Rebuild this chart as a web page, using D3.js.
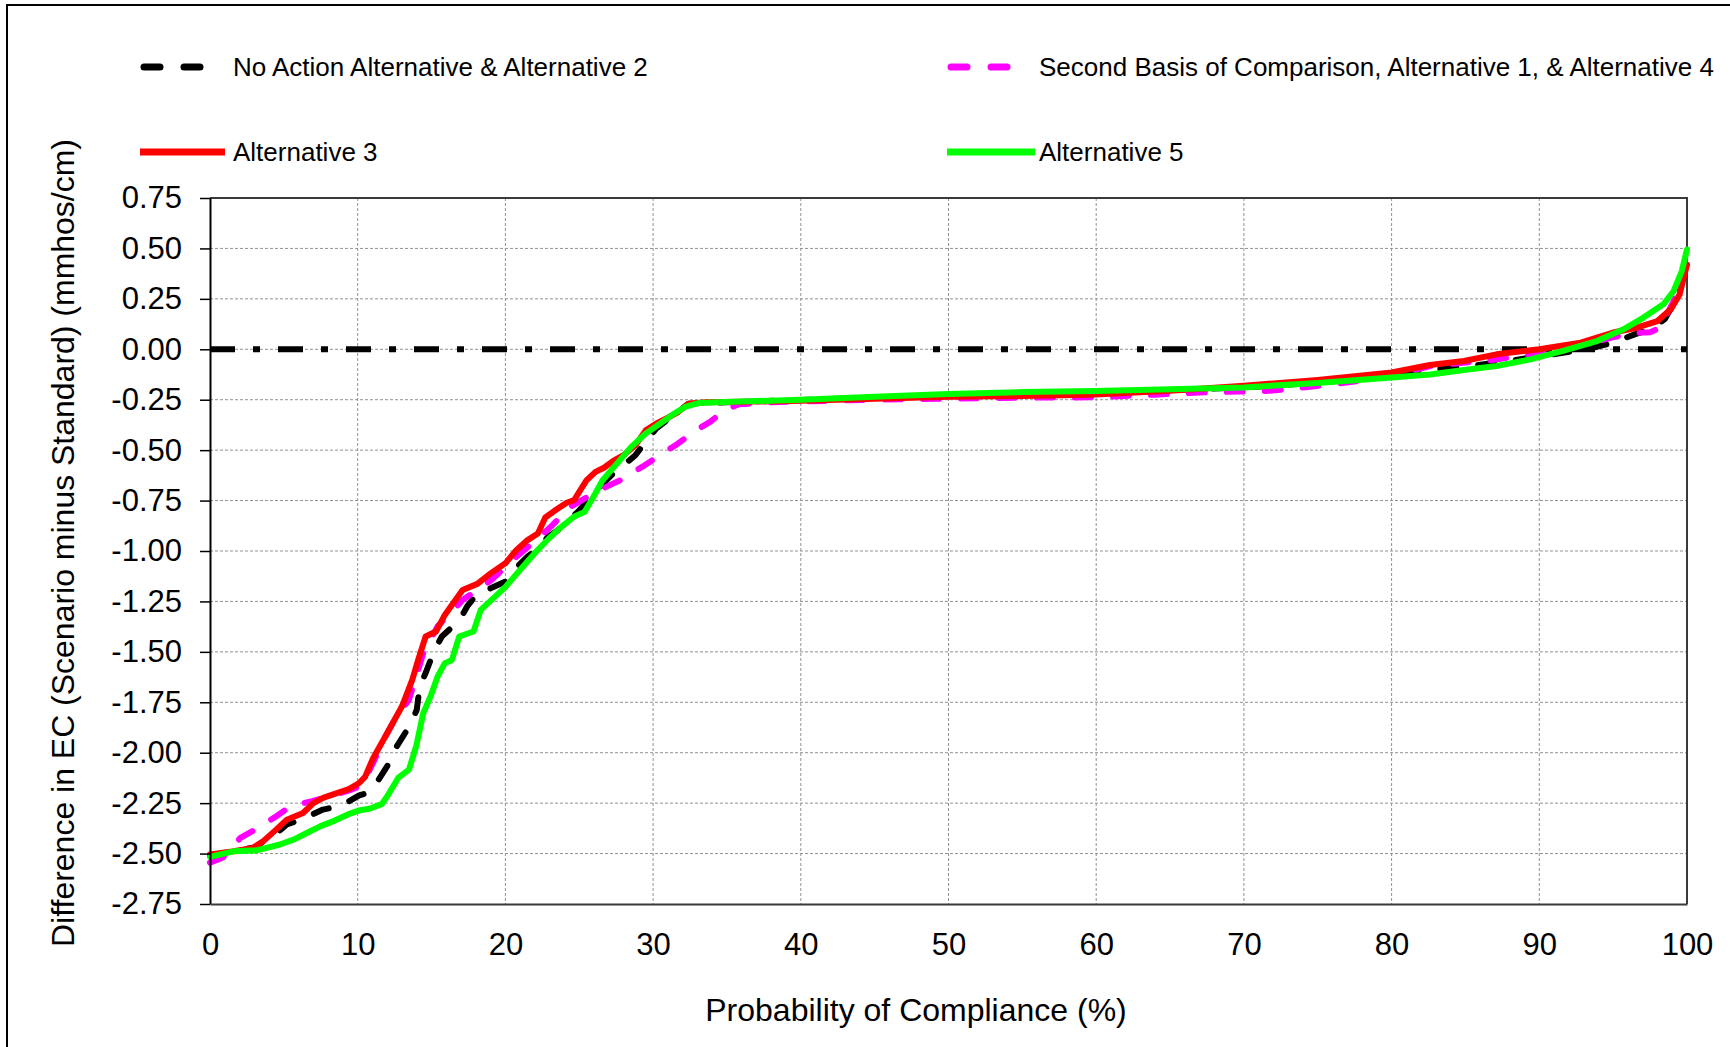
<!DOCTYPE html>
<meta charset="utf-8">
<style>
  body { margin: 0; background: #fff; }
  svg { display: block; }
  text { font-family: "Liberation Sans", Arial, sans-serif; fill: #000; }
</style>
<script src="https://d3js.org/d3.v7.min.js"></script>
<body>
<script>

// probability of compliance (%) and EC difference
var noActionX = [0, 1.5, 3.0, 3.5, 4.5, 5.2, 6.2, 7.65, 8.9, 10.1, 10.7, 11.2, 12.0, 12.5, 13.5, 14.0, 14.2, 14.6, 15.2, 15.7, 16.9, 17.4, 18.1, 19.0, 20.0, 20.8, 21.5, 22.2, 22.9, 23.4, 24.2, 24.9, 25.6, 26.6, 27.3, 28.0, 28.8, 29.5, 30.2, 31.2, 32.4, 35, 40, 45, 50, 55, 60, 65, 70, 75, 80, 83, 85.3, 88, 89.4, 93.2, 95, 96.5, 97.5, 98.5, 99.3, 100]
var noActionY = [-2.51, -2.49, -2.47, -2.446, -2.4, -2.356, -2.331, -2.282, -2.262, -2.212, -2.199, -2.158, -2.067, -1.985, -1.869, -1.787, -1.671, -1.605, -1.49, -1.424, -1.342, -1.276, -1.21, -1.185, -1.152, -1.078, -1.028, -0.987, -0.929, -0.905, -0.855, -0.806, -0.748, -0.666, -0.616, -0.575, -0.525, -0.459, -0.393, -0.336, -0.27, -0.262, -0.252, -0.24, -0.228, -0.22, -0.212, -0.202, -0.19, -0.165, -0.13, -0.1, -0.083, -0.058, -0.041, 0.0, 0.033, 0.075, 0.1, 0.15, 0.25, 0.42]

var secondBasisX = [0, 0.85, 2.06, 3.28, 4.49, 5.46, 6.92, 8.13, 9.59, 10.32, 11.04, 11.77, 12.5, 13.47, 14.44, 15.41, 17.11, 19.05, 20.75, 22.21, 23.18, 24.39, 25.36, 26.82, 27.79, 29.25, 30.46, 31.67, 32.89, 33.86, 34.83, 35.8, 38, 45, 50, 55, 59.6, 64, 67, 71.7, 74.5, 78, 80, 82.8, 86.3, 90, 93, 95, 96.5, 97.5, 98.2, 99.3, 100]
var secondBasisY = [-2.545, -2.521, -2.422, -2.372, -2.315, -2.265, -2.24, -2.216, -2.183, -2.158, -2.051, -1.935, -1.836, -1.737, -1.507, -1.374, -1.243, -1.144, -1.028, -0.938, -0.872, -0.781, -0.74, -0.682, -0.649, -0.583, -0.525, -0.468, -0.402, -0.36, -0.303, -0.273, -0.262, -0.25, -0.245, -0.24, -0.238, -0.225, -0.214, -0.206, -0.186, -0.155, -0.13, -0.08, -0.058, -0.02, 0.02, 0.06, 0.08, 0.085, 0.107, 0.27, 0.42]

var alt3X = [0, 1.5, 2.9, 3.6, 4.5, 5.2, 6.3, 7.0, 7.65, 8.4, 9.4, 10.1, 10.5, 11.0, 12.0, 13.0, 13.7, 14.1, 14.6, 15.3, 15.9, 17.1, 18.1, 19.0, 20.0, 20.75, 21.5, 22.2, 22.7, 23.4, 24.15, 24.65, 25.5, 26.1, 26.7, 27.3, 28.0, 28.8, 29.5, 30.2, 31.0, 31.7, 32.4, 33.6, 36, 40, 45, 50, 55, 59.6, 65, 70, 75, 80, 82.6, 84.9, 87.1, 90, 92.8, 95, 96.6, 98, 98.9, 99.5, 100]
var alt3Y = [-2.505, -2.49, -2.472, -2.439, -2.38, -2.332, -2.299, -2.25, -2.224, -2.205, -2.18, -2.15, -2.12, -2.034, -1.902, -1.77, -1.638, -1.539, -1.424, -1.399, -1.317, -1.193, -1.163, -1.111, -1.061, -0.995, -0.946, -0.913, -0.834, -0.797, -0.761, -0.748, -0.649, -0.608, -0.586, -0.553, -0.525, -0.476, -0.402, -0.369, -0.339, -0.311, -0.27, -0.262, -0.26, -0.255, -0.245, -0.235, -0.232, -0.225, -0.205, -0.181, -0.152, -0.115, -0.078, -0.058, -0.025, 0.0, 0.033, 0.083, 0.107, 0.14, 0.198, 0.272, 0.42]

var alt5X = [0, 1.58, 3.16, 4.73, 5.7, 6.55, 7.45, 8.37, 9.34, 10.16, 10.8, 11.62, 12.0, 12.74, 13.47, 13.96, 14.44, 14.93, 15.41, 15.9, 16.38, 16.87, 17.84, 18.33, 19.3, 20.02, 20.99, 21.97, 22.94, 23.67, 24.64, 25.36, 26.09, 26.58, 27.55, 28.52, 29.49, 30.46, 31.43, 32.16, 33.13, 34.34, 40, 45, 50, 55, 60, 65, 70, 75, 80, 82.6, 84.9, 87.1, 89.4, 91.6, 93.9, 95.7, 97.05, 98.4, 99.1, 99.65, 100]
var alt5Y = [-2.516, -2.489, -2.484, -2.455, -2.43, -2.398, -2.365, -2.339, -2.306, -2.285, -2.278, -2.255, -2.216, -2.125, -2.084, -1.968, -1.803, -1.721, -1.622, -1.556, -1.54, -1.424, -1.399, -1.292, -1.226, -1.177, -1.094, -1.012, -0.938, -0.888, -0.83, -0.806, -0.715, -0.649, -0.567, -0.484, -0.418, -0.369, -0.319, -0.286, -0.266, -0.263, -0.25, -0.235, -0.222, -0.212, -0.207, -0.198, -0.189, -0.167, -0.14, -0.125, -0.103, -0.083, -0.05, -0.008, 0.041, 0.099, 0.157, 0.223, 0.289, 0.388, 0.495]

var xTicks = [0, 10, 20, 30, 40, 50, 60, 70, 80, 90, 100]
var yTicks = [0.75, 0.5, 0.25, 0, -0.25, -0.5, -0.75, -1, -1.25, -1.5, -1.75, -2, -2.25, -2.5, -2.75]

var seriesNames = ["No Action Alternative & Alternative 2",
                   "Second Basis of Comparison, Alternative 1, & Alternative 4",
                   "Alternative 3",
                   "Alternative 5"]

// drawing order follows the legend: later series sit on top
var series = [
  {name: seriesNames[0], xs: noActionX, ys: noActionY, color: "#000000", dash: "16,22"},
  {name: seriesNames[1], xs: secondBasisX, ys: secondBasisY, color: "#ff00ff", dash: "16,22"},
  {name: seriesNames[2], xs: alt3X, ys: alt3Y, color: "#ff0000", dash: null},
  {name: seriesNames[3], xs: alt5X, ys: alt5Y, color: "#00ff00", dash: null}
]

var W = 1730, H = 1047
var plot = {left: 210, right: 1687, top: 198, bottom: 904}

var svg = d3.select("body").append("svg")
    .attr("width", W)
    .attr("height", H)

svg.append("rect").attr("width", W).attr("height", H).attr("fill", "#fff")

// outer chart frame (runs off the right and bottom edges)
svg.append("rect")
    .attr("x", 7).attr("y", 5)
    .attr("width", W + 20).attr("height", H + 20)
    .attr("fill", "none")
    .attr("stroke", "#000")
    .attr("stroke-width", 2)

var x = d3.scaleLinear().domain([0, 100]).range([plot.left, plot.right])
var y = d3.scaleLinear().domain([-2.75, 0.75]).range([plot.bottom, plot.top])

// grid
var grid = svg.append("g")
    .attr("stroke", "#929292")
    .attr("stroke-width", 1)
    .attr("stroke-dasharray", "3,2")

grid.selectAll(".vgrid")
    .data(xTicks.filter(function(d) { return d > 0 && d < 100 }))
    .enter().append("line")
    .attr("x1", function(d) { return x(d) }).attr("x2", function(d) { return x(d) })
    .attr("y1", plot.top).attr("y2", plot.bottom)

grid.selectAll(".hgrid")
    .data(yTicks.filter(function(d) { return d > -2.75 && d < 0.75 }))
    .enter().append("line")
    .attr("x1", plot.left).attr("x2", plot.right)
    .attr("y1", function(d) { return y(d) }).attr("y2", function(d) { return y(d) })

// plot area border (top, right)
svg.append("path")
    .attr("d", "M" + plot.left + "," + plot.top + "H" + plot.right + "V" + plot.bottom)
    .attr("fill", "none")
    .attr("stroke", "#3a3a3a")
    .attr("stroke-width", 2)

// zero reference line, dash-dot
svg.append("line")
    .attr("x1", x(0)).attr("x2", x(100))
    .attr("y1", y(0)).attr("y2", y(0))
    .attr("stroke", "#000")
    .attr("stroke-width", 6)
    .attr("stroke-dasharray", "25,18,7,18")

var line = d3.line()
    .x(function(d) { return x(d[0]) })
    .y(function(d) { return y(d[1]) })

series.forEach(function(s) {
  var path = svg.append("path")
      .datum(d3.zip(s.xs, s.ys))
      .attr("d", line)
      .attr("fill", "none")
      .attr("stroke", s.color)
      .attr("stroke-width", 6)
      .attr("stroke-linejoin", "round")
      .attr("stroke-linecap", "round")
  if (s.dash) path.attr("stroke-dasharray", s.dash)
})

// axes
var yAxis = svg.append("g")
    .attr("transform", "translate(" + plot.left + ",0)")
    .call(d3.axisLeft(y).tickValues(yTicks).tickSize(10).tickSizeOuter(0).tickPadding(18)
      .tickFormat(function(d) { return d.toFixed(2) }))
yAxis.select(".domain").attr("stroke", "#000").attr("stroke-width", 2)
yAxis.selectAll(".tick line").attr("stroke", "#000").attr("stroke-width", 1.5)
yAxis.selectAll("text").attr("font-size", 31).attr("font-family", null)

var xAxis = svg.append("g")
    .attr("transform", "translate(0," + plot.bottom + ")")
    .call(d3.axisBottom(x).tickValues(xTicks).tickSize(0).tickSizeOuter(0).tickPadding(29))
xAxis.select(".domain").attr("stroke", "#3a3a3a").attr("stroke-width", 2)
xAxis.selectAll("text").attr("font-size", 31).attr("font-family", null)

// axis titles
svg.append("text")
    .attr("x", 916).attr("y", 1021)
    .attr("text-anchor", "middle")
    .attr("font-size", 32)
    .text("Probability of Compliance (%)")

svg.append("text")
    .attr("transform", "translate(63,543) rotate(-90)")
    .attr("text-anchor", "middle")
    .attr("dominant-baseline", "central")
    .attr("font-size", 31)
    .attr("textLength", 808)
    .attr("lengthAdjust", "spacingAndGlyphs")
    .text("Difference in EC (Scenario minus Standard) (mmhos/cm)")

// legend
var legendPos = [
  {lx1: 140, lx2: 208, tx: 233, y: 67},
  {lx1: 947, lx2: 1015, tx: 1039, y: 67},
  {lx1: 140, lx2: 225, tx: 233, y: 152},
  {lx1: 947, lx2: 1035, tx: 1039, y: 152}
]

var legend = svg.selectAll(".legend")
    .data(series)
    .enter().append("g")
    .attr("class", "legend")

legend.append("line")
    .attr("x1", function(d, i) { return legendPos[i].lx1 + (d.dash ? 4 : 0) })
    .attr("x2", function(d, i) { return legendPos[i].lx2 - (d.dash ? 4 : 0) })
    .attr("y1", function(d, i) { return legendPos[i].y })
    .attr("y2", function(d, i) { return legendPos[i].y })
    .attr("stroke", function(d) { return d.color })
    .attr("stroke-width", 7)
    .attr("stroke-linecap", function(d) { return d.dash ? "round" : "butt" })
    .attr("stroke-dasharray", function(d) { return d.dash ? "16,24" : null })

legend.append("text")
    .attr("x", function(d, i) { return legendPos[i].tx })
    .attr("y", function(d, i) { return legendPos[i].y })
    .attr("dominant-baseline", "central")
    .attr("font-size", 26)
    .text(function(d) { return d.name })

</script>
</body>
